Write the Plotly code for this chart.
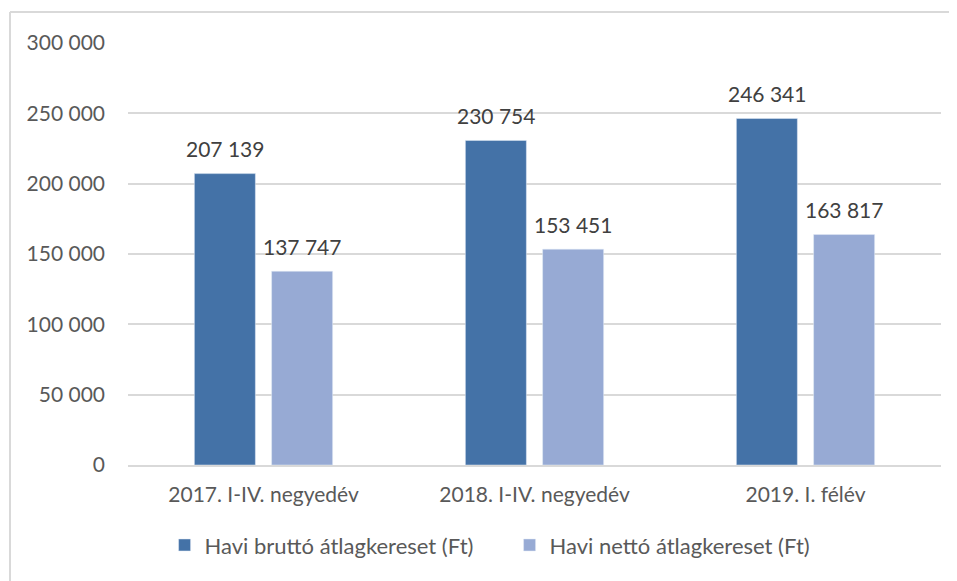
import plotly.graph_objects as go

categories = ["2017. I-IV. negyedév", "2018. I-IV. negyedév", "2019. I. félév"]
brutto = [207139, 230754, 246341]
netto = [137747, 153451, 163817]
series_names = ["Havi bruttó átlagkereset (Ft)", "Havi nettó átlagkereset (Ft)"]
tick_vals = [0, 50000, 100000, 150000, 200000, 250000, 300000]
tick_text = ["0", "50 000", "100 000", "150 000", "200 000", "250 000", "300 000"]


def fmt(v):
    return f"{v:,}".replace(",", " ")


font = "Lato, Open Sans, sans-serif"
txt_col = "#595959"
fs = 21

fig = go.Figure()
annos = []
for i, (name, vals, col) in enumerate([(series_names[0], brutto, "#4472A7"),
                                        (series_names[1], netto, "#97AAD4")]):
    fig.add_trace(go.Bar(x=categories, y=vals, name=name, marker_color=col))
    for c, v in zip(categories, vals):
        annos.append(dict(x=c, y=v, text=fmt(v), showarrow=False,
                          xshift=-38.5 if i == 0 else 38.5, yshift=25,
                          font=dict(size=fs, color="#404040", family=font)))

fig.update_layout(
    width=949, height=573,
    margin=dict(l=120, r=16, t=35, b=116),
    paper_bgcolor="white", plot_bgcolor="white",
    barmode="group", bargap=0.43, bargroupgap=0.21,
    font=dict(family=font, size=fs, color=txt_col),
    annotations=annos,
    legend=dict(orientation="h", x=0.045, xanchor="left", y=-0.19,
                yanchor="middle", font=dict(size=22, color=txt_col),
                itemwidth=30, entrywidth=300, traceorder="normal"),
    xaxis=dict(showgrid=False, showline=True, linecolor="#D9D9D9",
               linewidth=1.5, ticks="", tickfont=dict(size=fs),
               ticklabelstandoff=10),
    yaxis=dict(range=[0, 300000], tickvals=tick_vals, ticktext=tick_text,
               showgrid=True, gridcolor="#D9D9D9", gridwidth=1.5,
               zeroline=False, ticks="", ticklabelstandoff=22,
               tickfont=dict(size=fs)),
    shapes=[
        dict(type="line", xref="paper", yref="paper",
             x0=-118 / 813, x1=1.1, y0=1 + 31 / 422, y1=1 + 31 / 422,
             line=dict(color="#D9D9D9", width=2)),
        dict(type="line", xref="paper", yref="paper",
             x0=-118 / 813, x1=-118 / 813, y0=1 + 31 / 422, y1=-0.4,
             line=dict(color="#D9D9D9", width=2)),
    ],
)

fig.write_html("out.html")
